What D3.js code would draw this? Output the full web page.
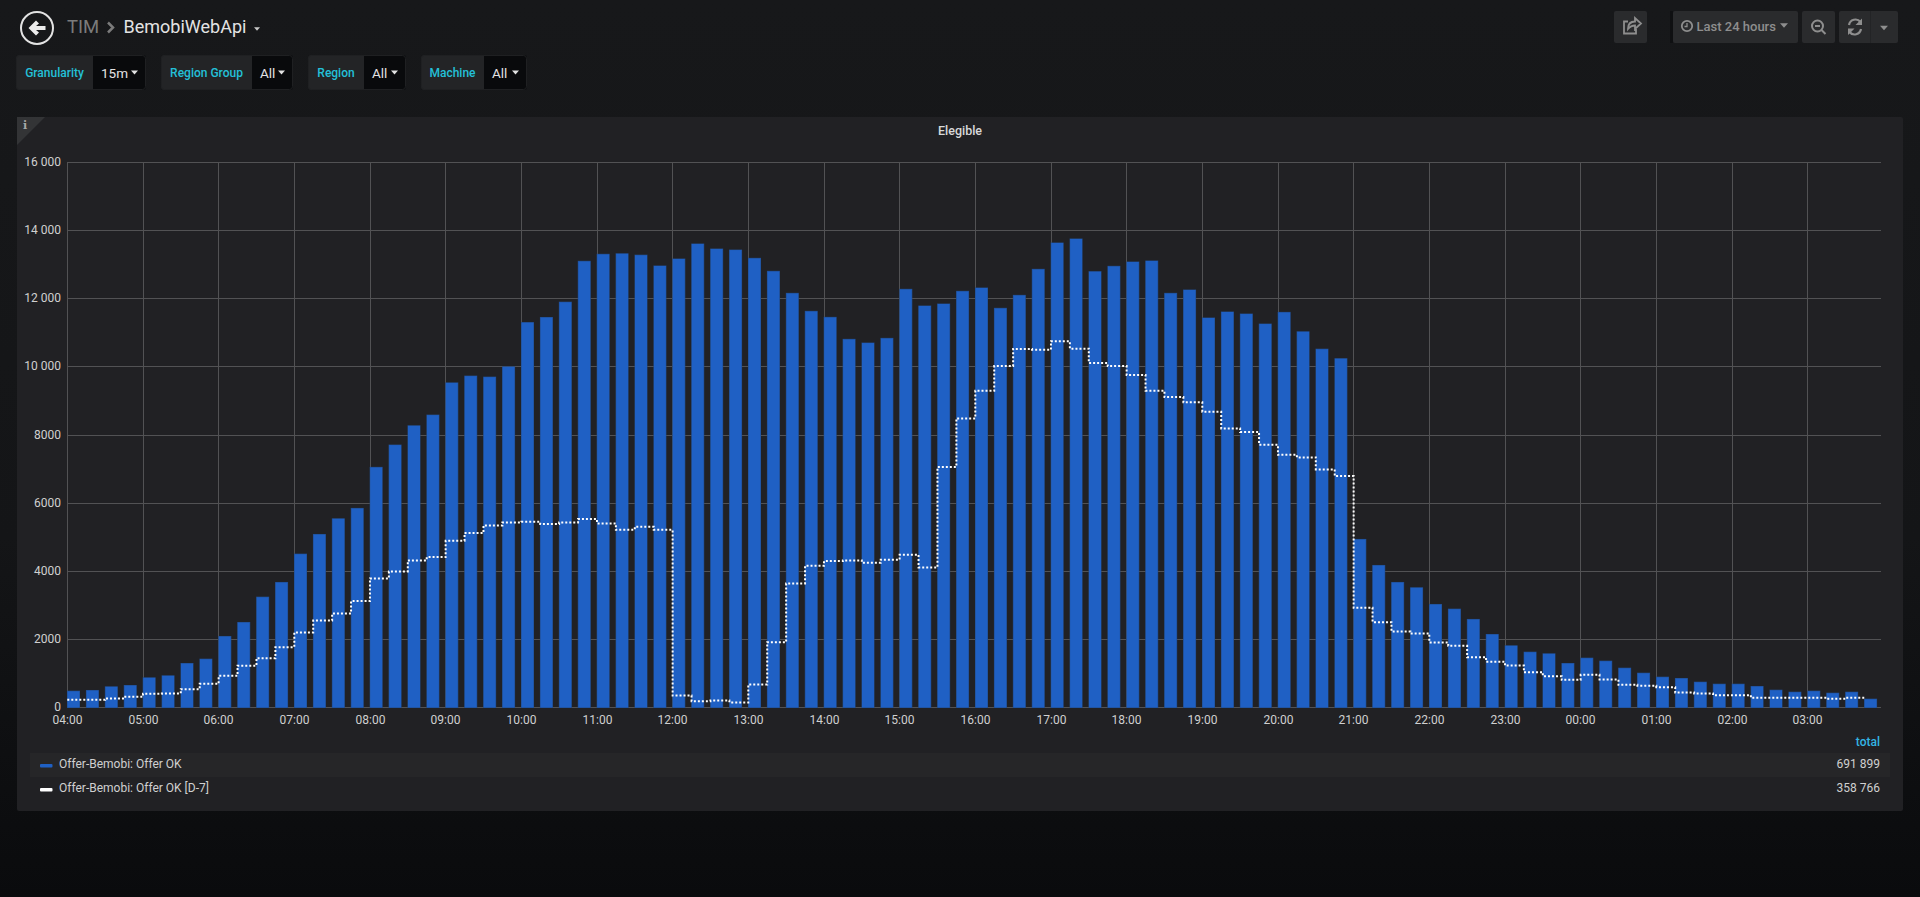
<!DOCTYPE html>
<html lang="en">

<head>
  <meta charset="utf-8">
  <title>Elegible</title>
  <script src="https://cdnjs.cloudflare.com/ajax/libs/d3/7.6.1/d3.min.js"></script>
  <style>
    html, body { margin: 0; padding: 0; background: #0b0c0e; overflow: hidden; }
    svg { display: block; }
    text { font-family: Roboto, "Noto Sans", sans-serif; }
  </style>
</head>

<body>

  <div id="chart"></div>

  <script>
    // one value per 15 minutes, starting at 04:00
    const offerOk = [
      480, 500, 607, 646, 871, 930, 1292, 1420, 2085, 2496, 3240, 3671, 4503, 5080, 5540, 5845,
      7050, 7705, 8270, 8585, 9530, 9730, 9700, 10000, 11300, 11450, 11900, 13100, 13305, 13320, 13280, 12962,
      13167, 13608, 13460, 13430, 13187, 12805, 12159, 11630, 11454, 10808, 10700, 10837, 12277, 11787, 11846, 12218,
      12316, 11719, 12100, 12864, 13637, 13755, 12795, 12952, 13079, 13109, 12159, 12257, 11435, 11611, 11552, 11258,
      11600, 11030, 10520, 10240, 4934, 4170, 3671, 3515, 3025, 2888, 2585, 2144, 1811, 1625, 1576, 1292,
      1449, 1361, 1155, 1008, 891, 852, 744, 685, 685, 617, 509, 450, 480, 421, 450, 245
    ];

    const offerOkD7 = [
      225, 225, 264, 313, 401, 411, 538, 695, 930, 1224, 1449, 1772, 2203, 2555, 2760, 3123,
      3789, 3994, 4317, 4415, 4895, 5120, 5345, 5433, 5453, 5385, 5433, 5531, 5404, 5218, 5306, 5218,
      352, 186, 205, 147, 675, 1919, 3642, 4161, 4298, 4317, 4249, 4337, 4484, 4112, 7059, 8488,
      9300, 10025, 10524, 10505, 10750, 10534, 10113, 10025, 9760, 9300, 9114, 8958, 8684, 8194, 8087, 7714,
      7420, 7342, 6990, 6794, 2927, 2506, 2232, 2173, 1909, 1811, 1478, 1341, 1233, 1038, 920, 812,
      959, 822, 666, 636, 597, 440, 411, 362, 362, 284, 284, 284, 284, 254, 284, 284
    ];

    const yTicks = [0, 2000, 4000, 6000, 8000, 10000, 12000, 14000, 16000];
    const seriesNames = ['Offer-Bemobi: Offer OK', 'Offer-Bemobi: Offer OK [D-7]'];
    const seriesTotals = ['691 899', '358 766'];
    const variableNames = ['Granularity', 'Region Group', 'Region', 'Machine'];
    const variableValues = ['15m', 'All', 'All', 'All'];

    const width = 1920;
    const height = 897;
    const startTime = new Date(Date.UTC(2018, 0, 10, 4));
    const endTime = new Date(Date.UTC(2018, 0, 11, 4));
    const times = d3.utcMinute.every(15).range(startTime, endTime);

    const svg = d3.select('#chart')
      .append('svg')
      .attr('width', width)
      .attr('height', height);

    drawPage();
    drawToolbar();
    drawVariables();
    drawPanel();
    drawGraph();
    drawLegend();

    function drawPage() {
      const gradient = svg.append('defs')
        .append('linearGradient')
        .attr('id', 'pageBg')
        .attr('x1', 0).attr('y1', 0)
        .attr('x2', 0).attr('y2', 1);
      gradient.append('stop').attr('offset', '0%').attr('stop-color', '#17181a');
      gradient.append('stop').attr('offset', '60%').attr('stop-color', '#141517');
      gradient.append('stop').attr('offset', '100%').attr('stop-color', '#0a0b0d');

      svg.append('rect')
        .attr('width', width)
        .attr('height', height)
        .attr('fill', 'url(#pageBg)');
    }

    function caret(cx, cy, size, color) {
      svg.append('path')
        .attr('d', `M${cx - size},${cy - size * 0.55}h${size * 2}l${-size},${size * 1.1}z`)
        .attr('fill', color);
    }

    function toolButton(x, w) {
      svg.append('rect')
        .attr('x', x).attr('y', 11)
        .attr('width', w).attr('height', 32)
        .attr('rx', 2)
        .attr('fill', '#2a2b2d');
    }

    function drawToolbar() {
      // back button
      svg.append('circle')
        .attr('cx', 37).attr('cy', 28).attr('r', 16)
        .attr('fill', 'none')
        .attr('stroke', '#e3e3e3')
        .attr('stroke-width', 2);
      svg.append('path')
        .attr('d', 'M28.5,28 L36,20.5 L39,23.5 L36,26 L45.5,26 L45.5,30 L36,30 L39,32.5 L36,35.5 Z')
        .attr('fill', '#ececec');

      svg.append('text')
        .attr('x', 67).attr('y', 33)
        .attr('font-size', 18.5)
        .attr('fill', '#7b7b7b')
        .text('TIM');
      svg.append('path')
        .attr('d', 'M108,22.5 L113,27.5 L108,32.5')
        .attr('fill', 'none')
        .attr('stroke', '#7b7b7b')
        .attr('stroke-width', 2.5);
      svg.append('text')
        .attr('x', 123.5).attr('y', 33)
        .attr('font-size', 18)
        .attr('fill', '#e3e3e3')
        .text('BemobiWebApi');
      caret(257, 29, 3, '#c8c8c8');

      // right hand buttons
      toolButton(1614, 33);
      toolButton(1673, 125);
      toolButton(1802, 33);
      toolButton(1839, 59);
      svg.append('rect')
        .attr('x', 1670).attr('y', 11)
        .attr('width', 3).attr('height', 32)
        .attr('fill', '#0f1012');
      svg.append('line')
        .attr('x1', 1870.5).attr('x2', 1870.5)
        .attr('y1', 11).attr('y2', 43)
        .attr('stroke', '#232426');

      const iconColor = '#8e8e8e';

      // share
      svg.append('path')
        .attr('d', 'M1636,29 v4.5 h-12 v-12 h4 M1628,29 c0,-5 3,-7.5 7,-7.5 v-3.5 l6,5.5 l-6,5.5 v-3.5 c-3,0 -5,1 -7,3.5 z')
        .attr('fill', 'none')
        .attr('stroke', iconColor)
        .attr('stroke-width', 1.8);

      // clock
      svg.append('circle')
        .attr('cx', 1687).attr('cy', 26).attr('r', 5.2)
        .attr('fill', 'none')
        .attr('stroke', iconColor)
        .attr('stroke-width', 1.8);
      svg.append('path')
        .attr('d', 'M1687,23 v3.5 h-2.5')
        .attr('fill', 'none')
        .attr('stroke', iconColor)
        .attr('stroke-width', 1.3);
      svg.append('text')
        .attr('x', 1696.5).attr('y', 31)
        .attr('font-size', 13)
        .attr('font-weight', 500)
        .attr('fill', iconColor)
        .text('Last 24 hours');
      caret(1784, 25.5, 4, iconColor);

      // zoom out
      svg.append('circle')
        .attr('cx', 1817.5).attr('cy', 26).attr('r', 5.5)
        .attr('fill', 'none')
        .attr('stroke', iconColor)
        .attr('stroke-width', 2);
      svg.append('path')
        .attr('d', 'M1815,26 h5 M1821.5,30 l4,4')
        .attr('fill', 'none')
        .attr('stroke', iconColor)
        .attr('stroke-width', 2);

      // refresh
      svg.append('path')
        .attr('d', 'M1849,25 a6.5,6.5 0 0 1 11.5,-3 M1861,29 a6.5,6.5 0 0 1 -11.5,3')
        .attr('fill', 'none')
        .attr('stroke', iconColor)
        .attr('stroke-width', 2.2);
      svg.append('path')
        .attr('d', 'M1862,18.5 v6.5 h-6.5 z M1848,35 v-6.5 h6.5 z')
        .attr('fill', iconColor);
      caret(1884, 28, 4, iconColor);
    }

    function drawVariables() {
      const boxes = [
        { x: 16, split: 93, end: 146 },
        { x: 161, split: 252, end: 293 },
        { x: 308, split: 364, end: 406 },
        { x: 421, split: 484, end: 527 }
      ];

      boxes.forEach((box, i) => {
        svg.append('rect')
          .attr('x', box.x).attr('y', 55)
          .attr('width', box.end - box.x).attr('height', 35)
          .attr('rx', 3)
          .attr('fill', '#090a0c');
        svg.append('path')
          .attr('d', `M${box.split},55 H${box.x + 3} a3,3 0 0 0 -3,3 V87 a3,3 0 0 0 3,3 H${box.split} Z`)
          .attr('fill', '#232426');
        svg.append('rect')
          .attr('x', box.x + 0.5).attr('y', 55.5)
          .attr('width', box.end - box.x - 1).attr('height', 34)
          .attr('rx', 3)
          .attr('fill', 'none')
          .attr('stroke', '#1f2022');
        svg.append('text')
          .attr('x', (box.x + box.split) / 2).attr('y', 77)
          .attr('text-anchor', 'middle')
          .attr('font-size', 12)
          .attr('font-weight', 500)
          .attr('fill', '#24c0d8')
          .text(variableNames[i]);
        svg.append('text')
          .attr('x', box.split + 8).attr('y', 78)
          .attr('font-size', 13.5)
          .attr('fill', '#e3e3e3')
          .text(variableValues[i]);
        caret(box.end - 11.5, 72.5, 3.5, '#e3e3e3');
      });
    }

    function drawPanel() {
      svg.append('rect')
        .attr('x', 17).attr('y', 117)
        .attr('width', 1886).attr('height', 694)
        .attr('rx', 2)
        .attr('fill', '#212124');
      svg.append('path')
        .attr('d', 'M17,117 h28 l-28,28 z')
        .attr('fill', '#333436');
      svg.append('text')
        .attr('x', 25).attr('y', 129)
        .attr('text-anchor', 'middle')
        .attr('font-size', 11)
        .attr('font-weight', 700)
        .attr('fill', '#a8a8a8')
        .style('font-family', 'DejaVu Serif')
        .text('i');
      svg.append('text')
        .attr('x', 960).attr('y', 135)
        .attr('text-anchor', 'middle')
        .attr('font-size', 12.5)
        .attr('font-weight', 500)
        .attr('fill', '#d8d9da')
        .text('Elegible');
    }

    function drawGraph() {
      // the time scale runs a little past the end of the drawn grid
      const x = d3.scaleTime()
        .domain([startTime, endTime])
        .range([67, 1883]);

      const y = d3.scaleLinear()
        .domain([0, 16000])
        .range([707, 162]);

      const barWidth = 12;
      const hourTicks = d3.utcHour.every(1).range(startTime, endTime);
      const formatY = value => value >= 10000
        ? d3.format(',')(value).replace(',', ' ')
        : String(value);

      // grid and labels come from the axes, drawn under the bars
      const xAxis = d3.axisBottom(x)
        .tickValues(hourTicks)
        .tickFormat(d3.utcFormat('%H:%M'))
        .tickSize(162 - 707)
        .tickPadding(0);

      const yAxis = d3.axisLeft(y)
        .tickValues(yTicks)
        .tickFormat(formatY)
        .tickSize(67 - 1881)
        .tickPadding(0);

      const xAxisGroup = svg.append('g')
        .attr('transform', 'translate(0, 707)')
        .call(xAxis);
      const yAxisGroup = svg.append('g')
        .attr('transform', 'translate(67, 0)')
        .call(yAxis);

      // keep grid lines on whole pixels so they stay sharp
      xAxisGroup.selectAll('.tick')
        .attr('transform', d => `translate(${Math.round(x(d)) + 0.5},0)`);
      yAxisGroup.selectAll('.tick')
        .attr('transform', d => `translate(0,${Math.round(y(d)) + 0.5})`);

      [xAxisGroup, yAxisGroup].forEach(group => {
        group.select('.domain').remove();
        group.selectAll('line').attr('stroke', '#525254');
        group.selectAll('text')
          .attr('font-size', 12)
          .attr('fill', '#d0d0d0')
          .style('font-family', 'Roboto');
      });
      xAxisGroup.selectAll('text').attr('y', 17).attr('dy', 0);
      yAxisGroup.selectAll('text').attr('x', -6).attr('dy', '0.32em');

      // bars
      svg.append('g')
        .selectAll('rect')
        .data(offerOk)
        .join('rect')
        .attr('x', (d, i) => x(times[i]) + 0.5)
        .attr('y', d => y(d) + 0.5)
        .attr('width', barWidth)
        .attr('height', d => y(0) - y(d))
        .attr('fill', '#1f60c4')
        .attr('stroke', '#234a84')
        .attr('stroke-width', 1)
        .style('paint-order', 'stroke');

      // D-7 line
      const line = d3.line()
        .x((d, i) => x(times[i]) + 0.3)
        .y(d => y(d) + 0.5)
        .curve(d3.curveStepAfter);

      svg.append('path')
        .attr('d', line(offerOkD7))
        .attr('fill', 'none')
        .attr('stroke', '#ffffff')
        .attr('stroke-width', 2)
        .attr('stroke-dasharray', '2 2');
    }

    function drawLegend() {
      svg.append('rect')
        .attr('x', 30).attr('y', 753)
        .attr('width', 1860).attr('height', 24)
        .attr('fill', '#262628');

      svg.append('text')
        .attr('x', 1880).attr('y', 746)
        .attr('text-anchor', 'end')
        .attr('font-size', 12)
        .attr('font-weight', 500)
        .attr('fill', '#33b5e5')
        .text('total');

      const rows = svg.append('g')
        .selectAll('g')
        .data(seriesNames)
        .join('g')
        .attr('transform', (d, i) => `translate(0, ${764 + i * 24})`);

      rows.append('rect')
        .attr('x', 40).attr('y', 0)
        .attr('width', 12.5).attr('height', 3.5)
        .attr('rx', 1)
        .attr('fill', (d, i) => i === 0 ? '#1f60c4' : '#ffffff');

      rows.append('text')
        .attr('x', 59).attr('y', 4)
        .attr('font-size', 12)
        .attr('fill', '#d0d0d0')
        .text(d => d);

      rows.append('text')
        .attr('x', 1880).attr('y', 4)
        .attr('text-anchor', 'end')
        .attr('font-size', 12)
        .attr('fill', '#d0d0d0')
        .text((d, i) => seriesTotals[i]);
    }
  </script>

</body>

</html>
